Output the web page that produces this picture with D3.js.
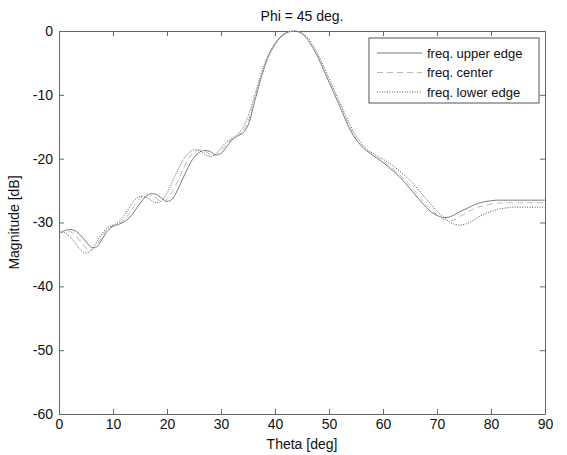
<!DOCTYPE html>
<html>
<head>
<meta charset="utf-8">
<script src="https://cdn.jsdelivr.net/npm/d3@7"></script>
<style>
  body { margin: 0; background: #fff; }
  text { font-family: 'Liberation Sans', Arial, sans-serif; }
</style>
</head>
<body>
<div id="chart"></div>
<script>
// theta values, one per degree
const theta = d3.range(0, 91)

const upperEdge = [
  -31.6, -31.3, -31.1, -31.3, -32.0, -33.0, -33.9, -33.8, -32.6, -31.3,
  -30.6, -30.3, -29.9, -29.3, -28.2, -27.0, -26.0, -25.5, -25.6, -26.2,
  -26.7, -26.3, -24.8, -23.0, -21.2, -19.8, -19.0, -18.7, -18.9, -19.4,
  -19.2, -18.2, -17.1, -16.5, -16.0, -14.8, -11.8, -8.6, -5.8, -3.6,
  -2.1, -1.0, -0.35, -0.05, -0.05, -0.4, -1.3, -2.6, -4.2, -6.1,
  -8.0, -9.9, -11.8, -13.8, -15.6, -17.0, -18.0, -18.8, -19.4, -20.0,
  -20.6, -21.3, -22.0, -22.8, -23.7, -24.7, -25.7, -26.7, -27.6, -28.4,
  -28.9, -29.2, -29.2, -28.9, -28.4, -28.0, -27.6, -27.2, -26.9, -26.7,
  -26.6, -26.5, -26.5, -26.5, -26.5, -26.5, -26.5, -26.5, -26.5, -26.5, -26.5
]

const center = [
  -31.6, -31.3, -31.4, -32.0, -33.0, -34.0, -34.3, -33.6, -32.2, -31.0,
  -30.5, -30.2, -29.6, -28.6, -27.3, -26.2, -25.6, -25.7, -26.2, -26.7,
  -26.4, -25.2, -23.5, -21.6, -20.0, -19.0, -18.6, -18.8, -19.3, -19.5,
  -18.8, -17.8, -16.9, -16.4, -15.7, -14.2, -11.4, -8.3, -5.6, -3.5,
  -2.0, -0.9, -0.3, -0.05, -0.05, -0.4, -1.2, -2.5, -4.0, -5.9,
  -7.8, -9.7, -11.6, -13.5, -15.3, -16.8, -17.9, -18.7, -19.3, -19.9,
  -20.4, -21.0, -21.7, -22.5, -23.3, -24.2, -25.2, -26.2, -27.1, -28.0,
  -28.8, -29.4, -29.7, -29.6, -29.2, -28.7, -28.2, -27.8, -27.5, -27.3,
  -27.1, -27.0, -26.9, -26.9, -26.9, -26.9, -26.9, -26.9, -26.9, -26.9, -26.9
]

const lowerEdge = [
  -31.6, -31.6, -32.2, -33.2, -34.3, -34.8, -34.3, -33.0, -31.7, -30.8,
  -30.4, -30.0, -29.0, -27.7, -26.5, -25.9, -26.0, -26.5, -26.9, -26.6,
  -25.4, -23.6, -21.8, -20.2, -19.1, -18.6, -18.8, -19.3, -19.7, -19.3,
  -18.3, -17.4, -16.8, -16.2, -15.2, -13.4, -10.8, -7.9, -5.3, -3.3,
  -1.9, -0.9, -0.3, -0.05, -0.05, -0.35, -1.0, -2.2, -3.7, -5.5,
  -7.4, -9.3, -11.2, -13.1, -14.9, -16.4, -17.6, -18.5, -19.1, -19.6,
  -20.1, -20.6, -21.2, -21.9, -22.6, -23.4, -24.3, -25.3, -26.3, -27.3,
  -28.2, -29.0, -29.7, -30.2, -30.4, -30.3, -30.0, -29.5, -29.0, -28.6,
  -28.3, -28.0, -27.8, -27.7, -27.6, -27.6, -27.6, -27.6, -27.6, -27.6, -27.6
]

const seriesNames = ['freq. upper edge', 'freq. center', 'freq. lower edge']
const xTicks = [0, 10, 20, 30, 40, 50, 60, 70, 80, 90]
const yTicks = [0, -10, -20, -30, -40, -50, -60]

const series = [
  { name: seriesNames[0], values: upperEdge, color: '#7a7a7a', dash: null },
  { name: seriesNames[1], values: center, color: '#bbbbbb', dash: '6,4' },
  { name: seriesNames[2], values: lowerEdge, color: '#555', dash: '1,1.5' }
]

const margin = { top: 31, left: 59, right: 22, bottom: 41 }
const width = 567 - margin.left - margin.right
const height = 455 - margin.top - margin.bottom

const svg = d3
  .select('#chart')
  .append('svg')
  .attr('width', 567)
  .attr('height', 455)
  .append('g')
  .attr('transform', 'translate(' + margin.left + ',' + margin.top + ')')

const xPositionScale = d3.scaleLinear().domain([0, 90]).range([0, width])
const yPositionScale = d3.scaleLinear().domain([-60, 0]).range([height, 0])

const line = d3
  .line()
  .x((d, i) => xPositionScale(theta[i]))
  .y(d => yPositionScale(d))
  .curve(d3.curveCatmullRom)

// axes, MATLAB style: inward ticks on all four sides
const axisColor = '#666'
function styleAxis(g) {
  g.selectAll('.domain').attr('stroke', axisColor)
  g.selectAll('.tick line').attr('stroke', axisColor)
  g.selectAll('.tick text')
    .attr('fill', '#111')
    .style('font-size', '14px')
}

// plain hyphen for negatives, like the original
const fmt = d => String(d)

svg
  .append('g')
  .attr('transform', 'translate(0,' + height + ')')
  .call(d3.axisBottom(xPositionScale).tickValues(xTicks).tickSize(-5).tickSizeOuter(0).tickPadding(5).tickFormat(fmt))
  .call(styleAxis)
svg
  .append('g')
  .call(d3.axisTop(xPositionScale).tickValues(xTicks).tickSize(-5).tickSizeOuter(0).tickFormat(''))
  .call(styleAxis)
svg
  .append('g')
  .call(d3.axisLeft(yPositionScale).tickValues(yTicks).tickSize(-5).tickSizeOuter(0).tickPadding(6).tickFormat(fmt))
  .call(styleAxis)
svg
  .append('g')
  .attr('transform', 'translate(' + width + ',0)')
  .call(d3.axisRight(yPositionScale).tickValues(yTicks).tickSize(-5).tickSizeOuter(0).tickFormat(''))
  .call(styleAxis)

svg.selectAll('.tick text').attr('font-family', null)

// curves
svg
  .selectAll('.curve')
  .data(series)
  .enter()
  .append('path')
  .attr('class', 'curve')
  .attr('d', d => line(d.values))
  .attr('fill', 'none')
  .attr('stroke', d => d.color)
  .attr('stroke-width', 1)
  .attr('stroke-dasharray', d => d.dash)

// title and labels
svg
  .append('text')
  .text('Phi = 45 deg.')
  .attr('x', width / 2)
  .attr('y', -10)
  .attr('text-anchor', 'middle')
  .style('font-size', '14px')
  .attr('fill', '#111')

svg
  .append('text')
  .text('Theta [deg]')
  .attr('x', width / 2)
  .attr('y', height + 35)
  .attr('text-anchor', 'middle')
  .style('font-size', '14px')
  .attr('fill', '#111')

svg
  .append('text')
  .text('Magnitude [dB]')
  .attr('transform', 'translate(' + -40 + ',' + height / 2 + ') rotate(-90)')
  .attr('text-anchor', 'middle')
  .style('font-size', '14px')
  .attr('fill', '#111')

// legend
const legend = svg.append('g').attr('transform', 'translate(' + (width - 176) + ',7)')
legend
  .append('rect')
  .attr('width', 170)
  .attr('height', 65)
  .attr('fill', '#fff')
  .attr('stroke', '#555')
  .attr('stroke-width', 1)

const items = legend
  .selectAll('.item')
  .data(series)
  .enter()
  .append('g')
  .attr('class', 'item')
  .attr('transform', (d, i) => 'translate(0,' + (15 + i * 19.5) + ')')

items
  .append('line')
  .attr('x1', 8)
  .attr('x2', 53)
  .attr('stroke', d => d.color)
  .attr('stroke-width', 1)
  .attr('stroke-dasharray', d => d.dash)

items
  .append('text')
  .text(d => d.name)
  .attr('x', 58)
  .attr('dy', '0.35em')
  .style('font-size', '13px')
  .attr('fill', '#111')
</script>
</body>
</html>
